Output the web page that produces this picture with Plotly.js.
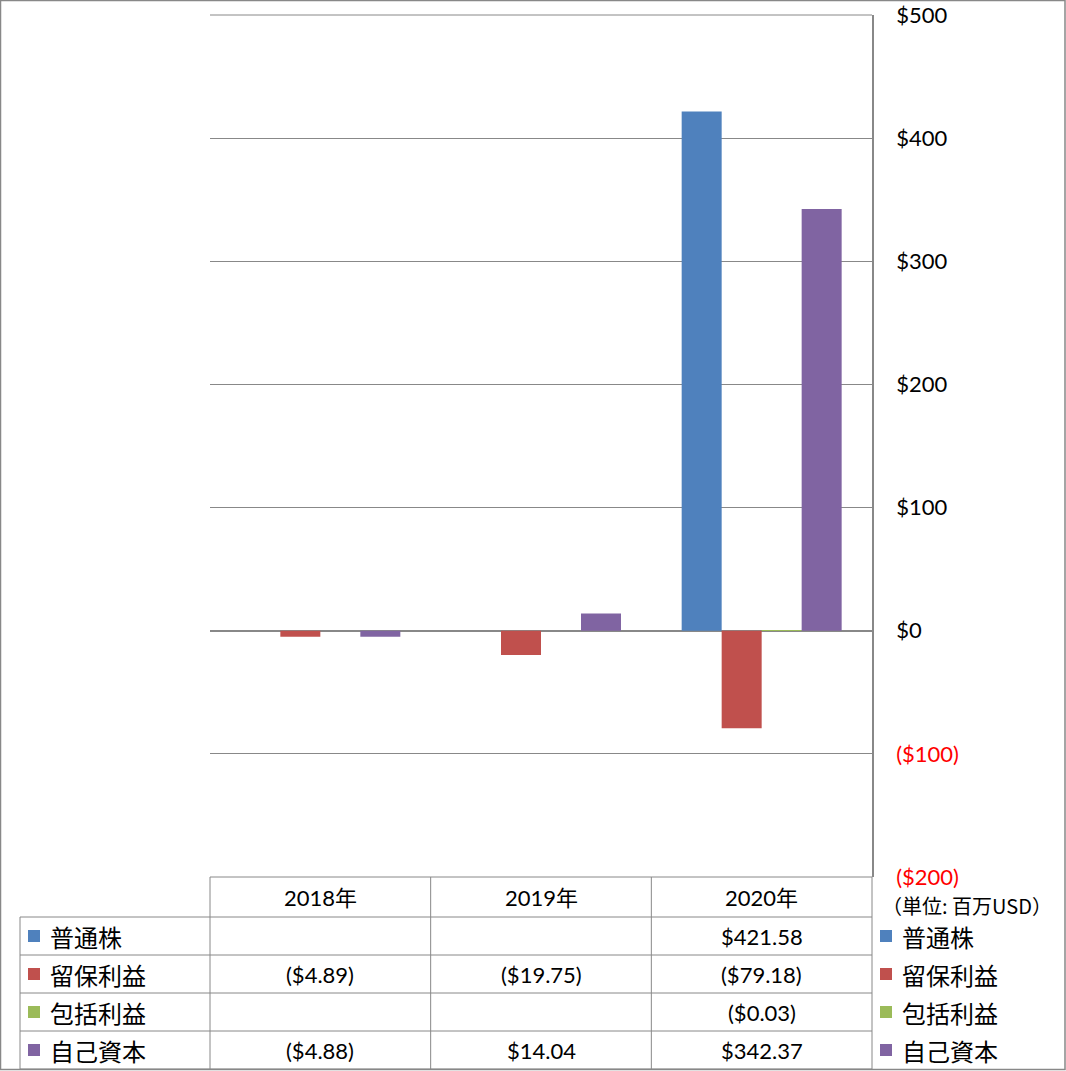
<!DOCTYPE html>
<html>
<head>
<meta charset="utf-8">
<script src="https://cdn.plot.ly/plotly-3.0.1.min.js"></script>
<style>html,body{margin:0;padding:0;background:#fff;}#chart{width:1066px;height:1071px;}</style>
</head>
<body>
<div id="chart"></div>
<script>
// ---- data ----
const categories = ['2018年', '2019年', '2020年'];
const seriesNames = ['普通株', '留保利益', '包括利益', '自己資本'];
const commonStock = [null, null, 421.58];
const retainedEarnings = [-4.89, -19.75, -79.18];
const comprehensiveIncome = [null, null, -0.03];
const totalEquity = [-4.88, 14.04, 342.37];
const yTickVals = [500, 400, 300, 200, 100, 0, -100, -200];
const unitNote = '（単位: 百万USD）';

// ---- styles ----
const seriesColors = ['#4F81BD', '#C0504D', '#9BBB59', '#8064A2'];
const FONT = "Lato, 'Noto Sans CJK JP', sans-serif";
const CJK = "'Noto Sans CJK JP', sans-serif";
const GRID = '#888888';
const W = 1066, H = 1071, L = 210, R = 872, T = 15, B = 877;
const px = x => (x - L) / (R - L);
const py = y => (B - y) / (B - T);

const seriesValues = [commonStock, retainedEarnings, comprehensiveIncome, totalEquity];
const fmt = v => (v === null ? '' : (v < 0 ? '($' + Math.abs(v).toFixed(2) + ')' : '$' + v.toFixed(2)));
const fmtTick = v => (v < 0 ? "<span style='color:#FF0000'>($" + Math.abs(v) + ")</span>" : '$' + v);

const traces = seriesNames.map((name, i) => ({
  type: 'bar',
  name: name,
  x: categories,
  y: seriesValues[i],
  marker: {color: seriesColors[i]},
  showlegend: false,
  hoverinfo: 'x+y+name'
}));

const shapes = [];
const annotations = [];
const line = (x0, y0, x1, y1) => shapes.push({type: 'line', xref: 'paper', yref: 'paper',
  x0: px(x0), y0: py(y0), x1: px(x1), y1: py(y1), line: {color: GRID, width: 1}});

// outer border
shapes.push({type: 'rect', xref: 'paper', yref: 'paper', x0: px(0.5), y0: py(0.5), x1: px(W - 1), y1: py(H - 1.5),
  line: {color: GRID, width: 1.5}, fillcolor: 'rgba(0,0,0,0)'});

// top gridline of plot area
line(L, T, R, T);

// data table grid
const rowTops = [917, 955, 993, 1031, 1069];
line(L, 877, R, 877);
rowTops.forEach(y => line(20, y, R, y));
line(L, 877, L, 1069);
line(20, 917, 20, 1069);
const colW = (R - L) / categories.length;
for (let c = 1; c <= categories.length; c++) line(L + colW * c, 877, L + colW * c, 1069);

// header
categories.forEach((cat, c) => annotations.push({xref: 'paper', yref: 'paper', x: (c + 0.5) / categories.length,
  y: py(897), text: cat, showarrow: false, xanchor: 'center', yanchor: 'middle', font: {family: FONT, size: 22, color: '#000'}}));

// rows + legends (table side and right side)
seriesNames.forEach((name, r) => {
  const yc = 936 + 38 * r;
  [[28, 50], [880, 902]].forEach(([sx, tx]) => {
    shapes.push({type: 'rect', xref: 'paper', yref: 'paper', x0: px(sx), x1: px(sx + 12), y0: py(yc - 6), y1: py(yc + 6),
      line: {width: 0}, fillcolor: seriesColors[r]});
    annotations.push({xref: 'paper', yref: 'paper', x: px(tx - 2), y: py(yc), text: name, showarrow: false,
      xanchor: 'left', yanchor: 'middle', font: {family: CJK, size: 24, color: '#000'}});
  });
  seriesValues[r].forEach((v, c) => {
    if (v === null) return;
    annotations.push({xref: 'paper', yref: 'paper', x: (c + 0.5) / categories.length, y: py(yc), text: fmt(v),
      showarrow: false, xanchor: 'center', yanchor: 'middle', font: {family: FONT, size: 22, color: '#000'}});
  });
});

// unit note
annotations.push({xref: 'paper', yref: 'paper', x: px(880), y: py(905), text: unitNote, showarrow: false,
  xanchor: 'left', yanchor: 'middle', font: {family: CJK, size: 20, color: '#000'}});

const layout = {
  width: W, height: H,
  margin: {l: L, r: W - R, t: T, b: H - B, pad: 0},
  paper_bgcolor: '#fff', plot_bgcolor: '#fff',
  font: {family: FONT, size: 22, color: '#000'},
  barmode: 'group', bargap: 0.275, bargroupgap: 0,
  xaxis: {type: 'category', showticklabels: false, showgrid: false, zeroline: false, showline: false, ticks: '', fixedrange: true},
  yaxis: {side: 'right', range: [-200, 500], tickvals: yTickVals, ticktext: yTickVals.map(fmtTick),
    showgrid: true, gridcolor: GRID, gridwidth: 1, zeroline: true, zerolinecolor: GRID, zerolinewidth: 1.5,
    showline: true, linecolor: GRID, linewidth: 1.5, ticks: '', ticklabelstandoff: 18,
    tickfont: {family: FONT, size: 22, color: '#000'}, fixedrange: true},
  showlegend: false,
  shapes: shapes,
  annotations: annotations
};

Plotly.newPlot('chart', traces, layout, {displayModeBar: false});
</script>
</body>
</html>
